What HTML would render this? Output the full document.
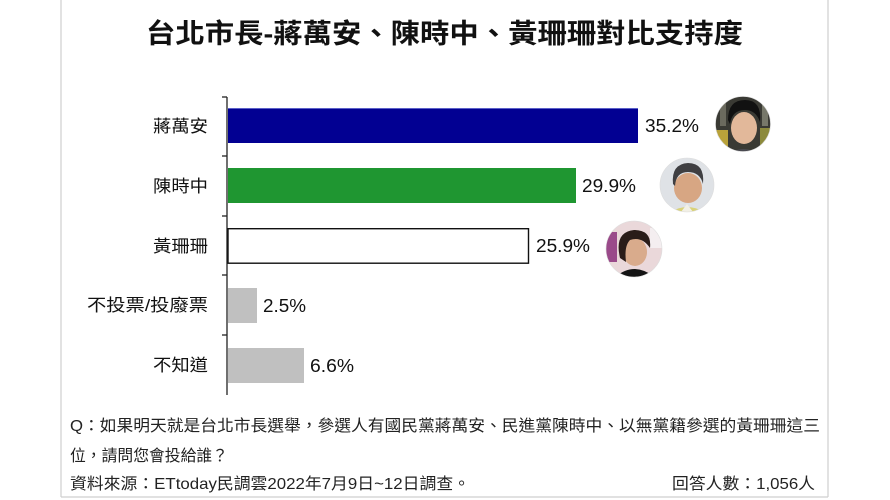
<!DOCTYPE html>
<html><head><meta charset="utf-8"><style>
html,body{margin:0;padding:0;background:#fff;}
svg{display:block;}
</style></head><body>
<svg width="890" height="500" viewBox="0 0 890 500" xmlns="http://www.w3.org/2000/svg" font-family="'Liberation Sans','Noto Sans CJK TC',sans-serif">
<defs>
<clipPath id="c1"><circle cx="743" cy="124" r="27.5"/></clipPath>
<clipPath id="c2"><circle cx="687" cy="185" r="27"/></clipPath>
<clipPath id="c3"><circle cx="634" cy="249" r="28"/></clipPath>
</defs>
<rect width="890" height="500" fill="#fff"/>
<!-- frame -->
<line x1="61" y1="0" x2="61" y2="497" stroke="#cfcfcf" stroke-width="1.2"/>
<line x1="828" y1="0" x2="828" y2="497" stroke="#cfcfcf" stroke-width="1.2"/>
<line x1="61" y1="497" x2="828" y2="497" stroke="#cfcfcf" stroke-width="1.2"/>

<!-- title -->
<text x="146" y="43" font-size="27" font-weight="bold" fill="#111" textLength="597" lengthAdjust="spacingAndGlyphs">台北市長-蔣萬安、陳時中、黃珊珊對比支持度</text>

<!-- axis -->
<line x1="227" y1="97" x2="227" y2="395" stroke="#222" stroke-width="1.3"/>
<g stroke="#222" stroke-width="1.3">
<line x1="222" y1="97" x2="227" y2="97"/>
<line x1="222" y1="156" x2="227" y2="156"/>
<line x1="222" y1="216" x2="227" y2="216"/>
<line x1="222" y1="275" x2="227" y2="275"/>
<line x1="222" y1="335" x2="227" y2="335"/>
</g>

<!-- bars -->
<rect x="228" y="108" width="410" height="35" fill="#020092"/>
<line x1="228" y1="108.5" x2="638" y2="108.5" stroke="#5a5fc8" stroke-width="1"/>
<rect x="228" y="168" width="348" height="35" fill="#1f9631"/>
<rect x="228" y="228.7" width="300.5" height="34.5" fill="#fff" stroke="#111" stroke-width="1.4"/>
<rect x="228" y="288" width="29" height="35" fill="#c0c0c0"/>
<rect x="228" y="348" width="76" height="35" fill="#c0c0c0"/>

<!-- category labels -->
<g font-size="17" fill="#111" text-anchor="end">
<text x="208" y="132" textLength="55" lengthAdjust="spacingAndGlyphs">蔣萬安</text>
<text x="208" y="192" textLength="55" lengthAdjust="spacingAndGlyphs">陳時中</text>
<text x="208" y="252" textLength="55" lengthAdjust="spacingAndGlyphs">黃珊珊</text>
<text x="208" y="311" textLength="121" lengthAdjust="spacingAndGlyphs">不投票/投廢票</text>
<text x="208" y="371" textLength="55" lengthAdjust="spacingAndGlyphs">不知道</text>
</g>

<!-- value labels -->
<g font-size="18.5" fill="#111">
<text x="645" y="132" textLength="54" lengthAdjust="spacingAndGlyphs">35.2%</text>
<text x="582" y="192" textLength="54" lengthAdjust="spacingAndGlyphs">29.9%</text>
<text x="536" y="252" textLength="54" lengthAdjust="spacingAndGlyphs">25.9%</text>
<text x="263" y="312" textLength="43" lengthAdjust="spacingAndGlyphs">2.5%</text>
<text x="310" y="372" textLength="44" lengthAdjust="spacingAndGlyphs">6.6%</text>
</g>

<!-- photo 1 -->
<g clip-path="url(#c1)">
<rect x="714" y="95" width="60" height="60" fill="#3a3a34"/>
<rect x="714" y="130" width="14" height="25" fill="#b9a23a"/>
<rect x="760" y="128" width="14" height="25" fill="#8c8a3c"/>
<rect x="720" y="96" width="6" height="30" fill="#6b6a5e"/>
<rect x="762" y="96" width="6" height="30" fill="#77786a"/>
<path d="M722 160 Q743 138 766 160 Z" fill="#4a4a50"/>
<ellipse cx="744" cy="128" rx="13" ry="16" fill="#e2b89a"/>
<path d="M728 120 Q728 100 745 100 Q762 100 760 122 Q756 110 745 110 Q732 110 730 124 Z" fill="#111"/>
</g>
<circle cx="743" cy="124" r="27.5" fill="none" stroke="#ddd" stroke-width="0.6"/>

<!-- photo 2 -->
<g clip-path="url(#c2)">
<rect x="658" y="156" width="60" height="60" fill="#dfe2e6"/>
<path d="M665 216 Q687 198 710 216 Z" fill="#d9d27a"/>
<path d="M678 216 L687 204 L696 216 Z" fill="#f2f0e6"/>
<ellipse cx="688" cy="188" rx="14" ry="15" fill="#d7a683"/>
<path d="M673 184 Q671 164 688 163 Q705 163 703 184 Q700 172 688 172 Q676 172 675 186 Z" fill="#3f3f42"/>
</g>
<circle cx="687" cy="185" r="27" fill="none" stroke="#ddd" stroke-width="0.6"/>

<!-- photo 3 -->
<g clip-path="url(#c3)">
<rect x="605" y="220" width="60" height="60" fill="#ead8da"/>
<rect x="605" y="232" width="12" height="30" fill="#9a4a8a"/>
<rect x="650" y="228" width="14" height="20" fill="#f4eef0"/>
<path d="M612 280 Q634 258 658 280 Z" fill="#141414"/>
<ellipse cx="635" cy="252" rx="12" ry="14" fill="#d9ab8c"/>
<path d="M620 258 Q614 232 634 230 Q652 230 650 248 Q642 236 630 240 Q624 246 626 262 Z" fill="#2a1c18"/>
</g>
<circle cx="634" cy="249" r="28" fill="none" stroke="#ddd" stroke-width="0.6"/>

<!-- footer -->
<g font-size="16" fill="#222">
<text x="70" y="431" textLength="750" lengthAdjust="spacingAndGlyphs">Q：如果明天就是台北市長選舉，參選人有國民黨蔣萬安、民進黨陳時中、以無黨籍參選的黃珊珊這三</text>
<text x="70" y="461" textLength="158" lengthAdjust="spacingAndGlyphs">位，請問您會投給誰？</text>
<text x="70" y="489" textLength="400" lengthAdjust="spacingAndGlyphs">資料來源：ETtoday民調雲2022年7月9日~12日調查。</text>
<text x="672" y="489" textLength="143" lengthAdjust="spacingAndGlyphs">回答人數：1,056人</text>
</g>
</svg>
</body></html>
